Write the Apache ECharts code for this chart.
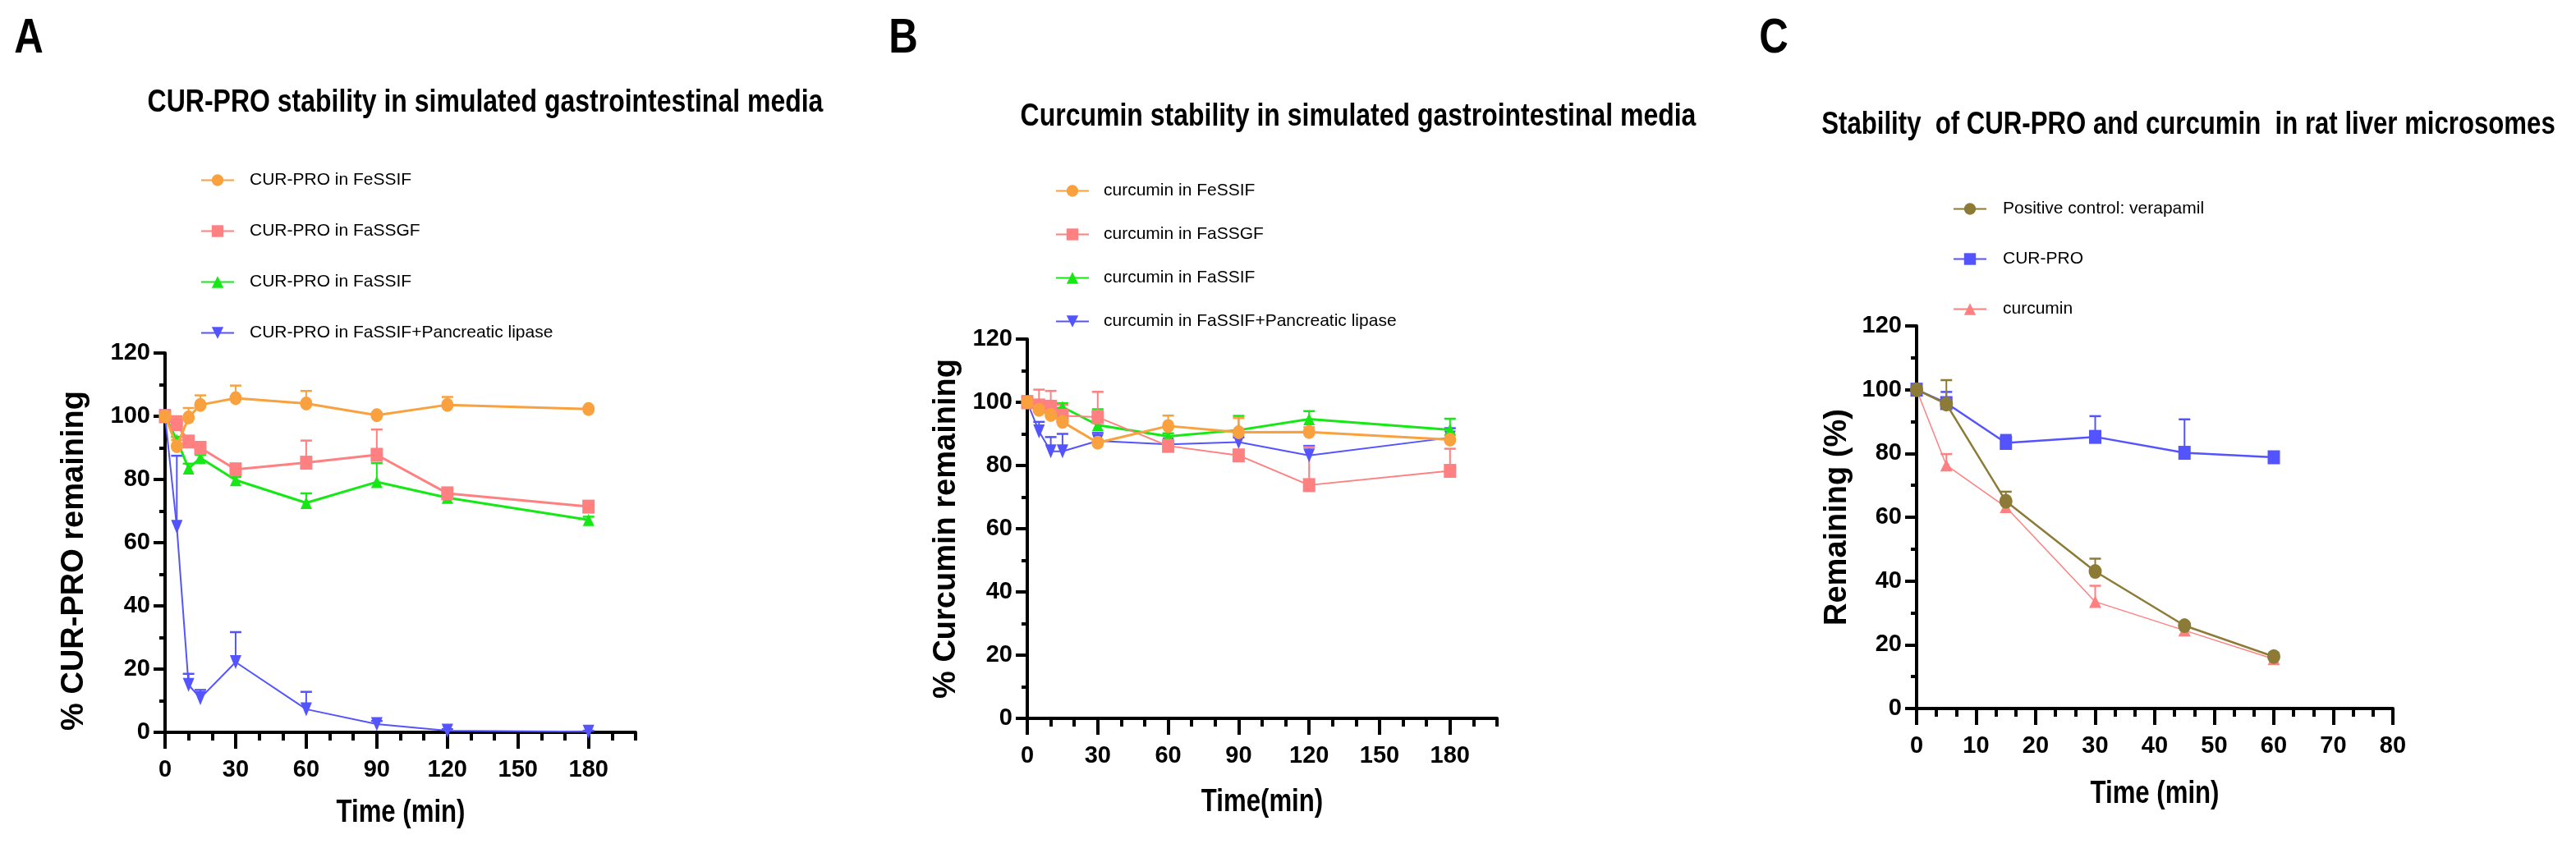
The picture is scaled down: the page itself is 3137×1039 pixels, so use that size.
<!DOCTYPE html>
<html><head><meta charset="utf-8">
<script src="https://cdn.jsdelivr.net/npm/echarts@6/dist/echarts.min.js"></script>
<style>html,body{margin:0;padding:0;background:#fff}#c{width:3137px;height:1039px}</style>
</head><body><div id="c"></div>
<script>
// ---------- data ----------
const TIME_GI = [0, 5, 10, 15, 30, 60, 90, 120, 180];
const TIME_RLM = [0, 5, 15, 30, 45, 60];
const GI_X_LABELS = [0, 30, 60, 90, 120, 150, 180];

// Panel A: CUR-PRO in simulated GI media (mean, +SD)
const A_FESSIF = [100, 90.5, 99.6, 103.6, 105.7, 104.0, 100.3, 103.6, 102.3];
const A_FESSIF_SD = [0, 2, 3, 3, 4, 4, 0.8, 2.5, 0.5];
const A_FASSGF = [100, 97.5, 92.0, 90.0, 83.2, 85.3, 87.8, 75.6, 71.4];
const A_FASSGF_SD = [0, 2.5, 1, 1.5, 1, 7, 8, 1, 1];
const A_FASSIF = [100, 92.5, 83.5, 86.8, 79.8, 72.6, 79.2, 74.2, 67.2];
const A_FASSIF_SD = [0, 1, 1.5, 1, 1, 3, 6, 1, 1];
const A_LIPASE = [100, 65.0, 15.0, 10.8, 22.2, 7.3, 2.6, 0.5, 0.2];
const A_LIPASE_SD = [0, 22.5, 3.5, 2.6, 9.5, 5.5, 1, 0.5, 0.3];

// Panel B: curcumin in simulated GI media
const B_FESSIF = [100, 97.6, 96.0, 93.8, 87.2, 92.5, 90.5, 90.6, 88.2];
const B_FESSIF_SD = [0, 3, 1, 1, 1, 3.3, 4.5, 1.5, 1.5];
const B_FASSGF = [100, 99.0, 98.6, 95.7, 95.3, 86.2, 83.2, 73.8, 78.3];
const B_FASSGF_SD = [0, 5, 5, 3.5, 8, 1, 1, 12, 7];
const B_FASSIF = [100, 99.0, 97.5, 98.5, 92.8, 89.2, 91.2, 94.7, 91.3];
const B_FASSIF_SD = [0, 1, 1, 1.2, 5, 1, 4.5, 2.5, 3.5];
const B_LIPASE = [100, 90.8, 84.5, 84.5, 87.8, 86.7, 87.4, 83.2, 88.8];
const B_LIPASE_SD = [0, 3, 4.5, 5.5, 2.5, 1, 1.5, 3, 3];

// Panel C: rat liver microsomes
const C_VERAPAMIL = [100, 95.5, 65.0, 43.0, 26.0, 16.3];
const C_VERAPAMIL_SD = [0, 7.5, 3, 4, 1, 1];
const C_CURPRO = [100, 95.8, 83.3, 85.2, 80.2, 78.8];
const C_CURPRO_SD = [0, 3.5, 2.5, 6.5, 10.5, 1.5];
const C_CURCUMIN = [100, 76.3, 63.2, 33.5, 24.5, 15.5];
const C_CURCUMIN_SD = [0, 3.5, 2, 5, 1, 1];

const NAMES_A = ['CUR-PRO in FeSSIF', 'CUR-PRO in FaSSGF', 'CUR-PRO in FaSSIF', 'CUR-PRO in FaSSIF+Pancreatic lipase'];
const NAMES_B = ['curcumin in FeSSIF', 'curcumin in FaSSGF', 'curcumin in FaSSIF', 'curcumin in FaSSIF+Pancreatic lipase'];
const NAMES_C = ['Positive control: verapamil', 'CUR-PRO', 'curcumin'];

// ---------- styles ----------
const SANS = "'Liberation Sans', Arial, sans-serif";
const ORANGE = '#F9A13F', PINK = '#FF8080', GREEN = '#16E816', BLUE = '#5454FF', OLIVE = '#8C7B36';

const chart = echarts.init(document.getElementById('c'), null, {renderer: 'canvas'});

function yAxis(gi) {
  return {
    gridIndex: gi, type: 'value', min: 0, max: 120, interval: 20,
    axisLine: {show: true, lineStyle: {color: '#000', width: 4}},
    axisTick: {show: true, length: 14, lineStyle: {color: '#000', width: 4}},
    minorTick: {show: true, splitNumber: 2, length: 7, lineStyle: {color: '#000', width: 4}},
    splitLine: {show: false}, minorSplitLine: {show: false},
    axisLabel: {margin: 18, color: '#000', fontFamily: SANS, fontWeight: 'bold', fontSize: 29}
  };
}
function xAxesGI(gi) {
  return [{
    gridIndex: gi, type: 'value', min: 0, max: 200, interval: 10,
    axisLine: {show: true, onZero: false, lineStyle: {color: '#000', width: 4}},
    axisTick: {show: true, length: 10, lineStyle: {color: '#000', width: 4}},
    splitLine: {show: false},
    axisLabel: {customValues: GI_X_LABELS, margin: 31, color: '#000', fontFamily: SANS, fontWeight: 'bold', fontSize: 29}
  }, {
    gridIndex: gi, type: 'value', min: 0, max: 200, position: 'bottom',
    axisLine: {show: false, onZero: false},
    axisTick: {show: true, customValues: GI_X_LABELS, length: 20, lineStyle: {color: '#000', width: 4}},
    splitLine: {show: false}, axisLabel: {show: false}
  }];
}
function line(name, xi, yi, t, v, color, symbol, size, lw, rotate, z) {
  return {
    type: 'line', name: name, xAxisIndex: xi, yAxisIndex: yi,
    data: t.map((x, i) => [x, v[i]]),
    symbol: symbol, symbolSize: size, symbolRotate: rotate || 0, showSymbol: true, clip: false,
    itemStyle: {color: color, opacity: 1},
    lineStyle: {color: color, width: lw},
    emphasis: {disabled: true}, animation: false, z: z
  };
}
function errBars(name, xi, yi, t, v, sd, color, z) {
  return {
    type: 'custom', name: name + ' SD', xAxisIndex: xi, yAxisIndex: yi, silent: true, clip: false,
    data: t.map((x, i) => [x, v[i], sd[i]]),
    renderItem: function (params, api) {
      const d = api.value(2);
      if (!d) return null;
      const p0 = api.coord([api.value(0), api.value(1)]);
      const p1 = api.coord([api.value(0), api.value(1) + d]);
      return {type: 'group', children: [
        {type: 'line', shape: {x1: p0[0], y1: p0[1], x2: p1[0], y2: p1[1]}, style: {stroke: color, lineWidth: 2}},
        {type: 'line', shape: {x1: p1[0] - 7, y1: p1[1], x2: p1[0] + 7, y2: p1[1]}, style: {stroke: color, lineWidth: 2.5}}
      ]};
    },
    animation: false, z: z
  };
}

const series = [];
// Panel A (axes: x 0/1, y 0)
series.push(errBars(NAMES_A[3], 0, 0, TIME_GI, A_LIPASE, A_LIPASE_SD, BLUE, 1));
series.push(errBars(NAMES_A[2], 0, 0, TIME_GI, A_FASSIF, A_FASSIF_SD, GREEN, 1));
series.push(errBars(NAMES_A[1], 0, 0, TIME_GI, A_FASSGF, A_FASSGF_SD, PINK, 1));
series.push(errBars(NAMES_A[0], 0, 0, TIME_GI, A_FESSIF, A_FESSIF_SD, ORANGE, 1));
series.push(line(NAMES_A[3], 0, 0, TIME_GI, A_LIPASE, BLUE, 'triangle', [14, 17], 2, 180, 3));
series.push(line(NAMES_A[2], 0, 0, TIME_GI, A_FASSIF, GREEN, 'triangle', [14, 15], 3, 0, 4));
series.push(line(NAMES_A[1], 0, 0, TIME_GI, A_FASSGF, PINK, 'rect', [15, 17], 3, 0, 5));
series.push(line(NAMES_A[0], 0, 0, TIME_GI, A_FESSIF, ORANGE, 'circle', [15, 17], 3, 0, 6));
// Panel B (axes: x 2/3, y 1)
series.push(errBars(NAMES_B[3], 2, 1, TIME_GI, B_LIPASE, B_LIPASE_SD, BLUE, 1));
series.push(errBars(NAMES_B[2], 2, 1, TIME_GI, B_FASSIF, B_FASSIF_SD, GREEN, 1));
series.push(errBars(NAMES_B[1], 2, 1, TIME_GI, B_FASSGF, B_FASSGF_SD, PINK, 1));
series.push(errBars(NAMES_B[0], 2, 1, TIME_GI, B_FESSIF, B_FESSIF_SD, ORANGE, 1));
series.push(line(NAMES_B[3], 2, 1, TIME_GI, B_LIPASE, BLUE, 'triangle', [14, 17], 2, 180, 3));
series.push(line(NAMES_B[2], 2, 1, TIME_GI, B_FASSIF, GREEN, 'triangle', [14, 15], 3, 0, 4));
series.push(line(NAMES_B[1], 2, 1, TIME_GI, B_FASSGF, PINK, 'rect', [15, 17], 2, 0, 5));
series.push(line(NAMES_B[0], 2, 1, TIME_GI, B_FESSIF, ORANGE, 'circle', [15, 17], 3, 0, 6));
// Panel C (axes: x 4, y 2)
series.push(errBars(NAMES_C[2], 4, 2, TIME_RLM, C_CURCUMIN, C_CURCUMIN_SD, PINK, 1));
series.push(errBars(NAMES_C[1], 4, 2, TIME_RLM, C_CURPRO, C_CURPRO_SD, BLUE, 1));
series.push(errBars(NAMES_C[0], 4, 2, TIME_RLM, C_VERAPAMIL, C_VERAPAMIL_SD, OLIVE, 1));
series.push(line(NAMES_C[2], 4, 2, TIME_RLM, C_CURCUMIN, PINK, 'triangle', [15, 15], 1.5, 0, 4));
series.push(line(NAMES_C[1], 4, 2, TIME_RLM, C_CURPRO, BLUE, 'rect', [15, 17], 2.5, 0, 5));
series.push(line(NAMES_C[0], 4, 2, TIME_RLM, C_VERAPAMIL, OLIVE, 'circle', [16, 18], 2.5, 0, 6));

function legend(names, left, top, gap, pad) {
  return {
    data: names, orient: 'vertical', left: left, top: top, itemGap: gap,
    itemWidth: 40, itemHeight: 18, selectedMode: false,
    textStyle: {fontFamily: SANS, fontSize: 21, color: '#000', padding: [0, 0, 0, pad]}
  };
}
// narrow look: Liberation Sans squeezed horizontally
function txt(text, x, y, size, rot) {
  const r = rot || 0;
  return {type: 'text', x: x, y: y, rotation: r, silent: true,
    scaleX: r ? 1 : 0.82,
    style: {text: text, font: 'bold ' + size + 'px ' + SANS, fill: '#000', align: 'center', verticalAlign: 'middle'}};
}

const option = {
  backgroundColor: '#fff',
  animation: false,
  grid: [
    {left: 201, top: 430, width: 573, height: 462, outerBoundsMode: 'none'},
    {left: 1251, top: 413, width: 572, height: 462, outerBoundsMode: 'none'},
    {left: 2334, top: 397, width: 580, height: 466, outerBoundsMode: 'none'}
  ],
  xAxis: [].concat(xAxesGI(0), xAxesGI(1), [{
    gridIndex: 2, type: 'value', min: 0, max: 80, interval: 10,
    axisLine: {show: true, onZero: false, lineStyle: {color: '#000', width: 4}},
    axisTick: {show: true, length: 20, lineStyle: {color: '#000', width: 4}},
    minorTick: {show: true, splitNumber: 3, length: 10, lineStyle: {color: '#000', width: 4}},
    splitLine: {show: false}, minorSplitLine: {show: false},
    axisLabel: {margin: 31, color: '#000', fontFamily: SANS, fontWeight: 'bold', fontSize: 29}
  }]),
  yAxis: [yAxis(0), yAxis(1), yAxis(2)],
  legend: [
    legend(NAMES_A, 239, 204, 41, 14),
    legend(NAMES_B, 1280, 217, 32, 13),
    legend(NAMES_C, 2373, 239, 40, 15)
  ],
  graphic: [
    txt('A', 35, 47, 60), txt('B', 1100, 47, 60), txt('C', 2160, 47, 60),
    txt('CUR-PRO stability in simulated gastrointestinal media', 591, 125, 39),
    txt('Curcumin stability in simulated gastrointestinal media', 1654, 142, 39),
    txt('Stability  of CUR-PRO and curcumin  in rat liver microsomes', 2665, 153, 38),
    txt('Time (min)', 488, 991, 38),
    txt('Time(min)', 1537, 978, 38),
    txt('Time (min)', 2624, 968, 38),
    txt('% CUR-PRO remaining', 91, 683, 38, Math.PI / 2),
    txt('% Curcumin remaining', 1153, 644, 38, Math.PI / 2),
    txt('Remaining (%)', 2238, 630, 38, Math.PI / 2)
  ],
  series: series
};
chart.setOption(option);
</script>
</body></html>
